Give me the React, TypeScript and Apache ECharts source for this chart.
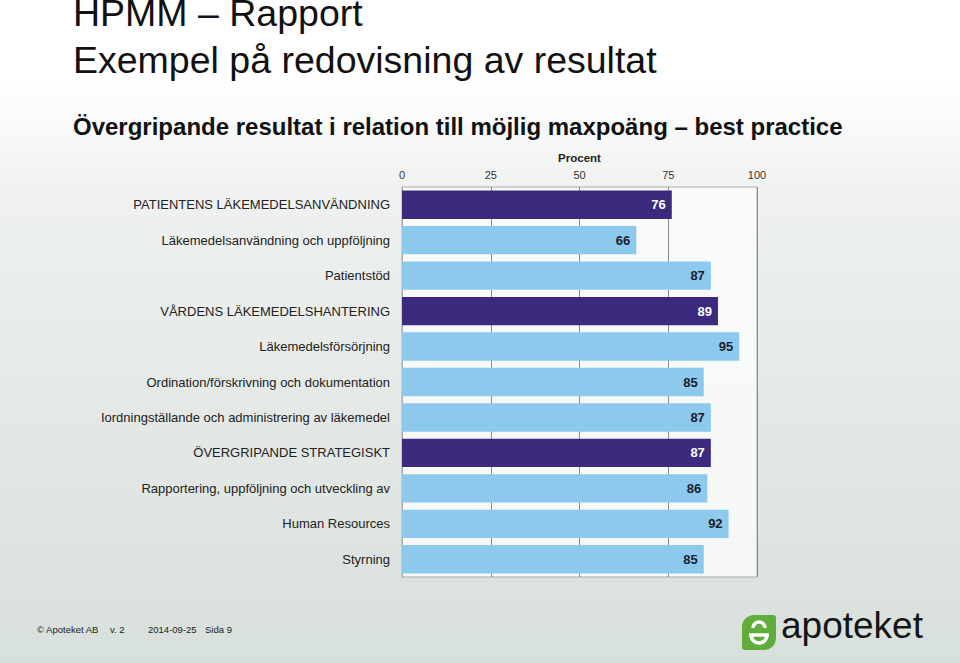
import React, { useEffect, useRef } from "react";
import * as echarts from "echarts";

const categories = [
  "PATIENTENS LÄKEMEDELSANVÄNDNING",
  "Läkemedelsanvändning och uppföljning",
  "Patientstöd",
  "VÅRDENS LÄKEMEDELSHANTERING",
  "Läkemedelsförsörjning",
  "Ordination/förskrivning och dokumentation",
  "Iordningställande och administrering av läkemedel",
  "ÖVERGRIPANDE STRATEGISKT",
  "Rapportering, uppföljning och utveckling av",
  "Human Resources",
  "Styrning",
];
const values = [76, 66, 87, 89, 95, 85, 87, 87, 86, 92, 85];
const isHeader = [true, false, false, true, false, false, false, true, false, false, false];
const xTicks = [0, 25, 50, 75, 100];

const FONT = "'Liberation Sans', Arial, Helvetica, sans-serif";
const DARK = "#3b2a7e";
const LIGHT = "#8dc9ec";

export default function App() {
  const ref = useRef<HTMLDivElement>(null);
  useEffect(() => {
    if (!ref.current) return;
    const chart = echarts.init(ref.current, null, { renderer: "svg" });
    chart.setOption({
      animation: false,
      backgroundColor: "transparent",
      textStyle: { fontFamily: FONT },
      grid: {
        left: 402,
        right: 203,
        top: 187,
        bottom: 86,
        show: true,
        backgroundColor: "rgba(250,251,251,0.85)",
        borderColor: "#a8aaaa",
        borderWidth: 1,
      },
      xAxis: {
        type: "value",
        position: "top",
        min: xTicks[0],
        max: xTicks[xTicks.length - 1],
        interval: 25,
        name: "Procent",
        nameLocation: "middle",
        nameGap: 21,
        nameTextStyle: { fontWeight: "bold", fontSize: 11.5, color: "#222", fontFamily: FONT },
        axisLine: { show: false },
        axisTick: { show: false },
        axisLabel: { color: "#333", fontSize: 11, margin: 7, fontFamily: FONT },
        splitLine: { show: true, lineStyle: { color: "#8a8c8c", width: 1 } },
      },
      yAxis: {
        type: "category",
        inverse: true,
        data: categories,
        axisLine: { show: true, lineStyle: { color: "#a8aaaa" } },
        axisTick: { show: false },
        axisLabel: { color: "#222", fontSize: 13, margin: 12, fontFamily: FONT },
      },
      series: [
        {
          type: "bar",
          barCategoryGap: "20%",
          data: values.map((v, i) => ({
            value: v,
            itemStyle: { color: isHeader[i] ? DARK : LIGHT },
            label: { color: isHeader[i] ? "#ffffff" : "#1b1d2e" },
          })),
          label: {
            show: true,
            position: "insideRight",
            distance: 6,
            fontWeight: "bold",
            fontSize: 13,
            fontFamily: FONT,
          },
        },
      ],
      graphic: [
        { type: "text", left: 73, top: -6, style: { text: "HPMM – Rapport", fontSize: 37.5, fontFamily: FONT, fill: "#111" } },
        { type: "text", left: 73, top: 41, style: { text: "Exempel på redovisning av resultat", fontSize: 37.5, fontFamily: FONT, fill: "#111" } },
        { type: "text", left: 73, top: 114, style: { text: "Övergripande resultat i relation till möjlig maxpoäng – best practice", fontSize: 24, fontWeight: "bold", fontFamily: FONT, fill: "#111" } },
        { type: "text", left: 37, top: 624, style: { text: "© Apoteket AB", fontSize: 9.5, fontFamily: FONT, fill: "#222" } },
        { type: "text", left: 110, top: 624, style: { text: "v. 2", fontSize: 9.5, fontFamily: FONT, fill: "#222" } },
        { type: "text", left: 148, top: 624, style: { text: "2014-09-25", fontSize: 9.5, fontFamily: FONT, fill: "#222" } },
        { type: "text", left: 205, top: 624, style: { text: "Sida 9", fontSize: 9.5, fontFamily: FONT, fill: "#222" } },
        {
          type: "group",
          left: 742,
          top: 615,
          children: [
            { type: "rect", shape: { x: 0, y: 0, width: 34, height: 35, r: [12, 3, 12, 3] }, style: { fill: "#5fae3c" } },
            { type: "arc", shape: { cx: 17, cy: 20, r: 8, startAngle: 0, endAngle: Math.PI }, style: { stroke: "#fff", lineWidth: 3.5, fill: "none" } },
            { type: "line", shape: { x1: 7, y1: 20, x2: 27, y2: 20 }, style: { stroke: "#fff", lineWidth: 3.5 } },
            { type: "arc", shape: { cx: 17, cy: 13, r: 6, startAngle: Math.PI, endAngle: Math.PI * 2 }, style: { stroke: "#fff", lineWidth: 3.5, fill: "none" } },
          ],
        },
        { type: "text", left: 781, top: 607, style: { text: "apoteket", fontSize: 37, fontFamily: FONT, fill: "#151515" } },
      ],
    });
    return () => chart.dispose();
  }, []);
  return (
    <div
      style={{
        position: "fixed",
        left: 0,
        top: 0,
        width: 960,
        height: 663,
        background: "linear-gradient(to bottom, #ffffff 0%, #ffffff 12%, #eef1ef 30%, #e3e8e5 65%, #d8e0dc 100%)",
      }}
    >
      <div ref={ref} style={{ width: 960, height: 663 }} />
    </div>
  );
}
